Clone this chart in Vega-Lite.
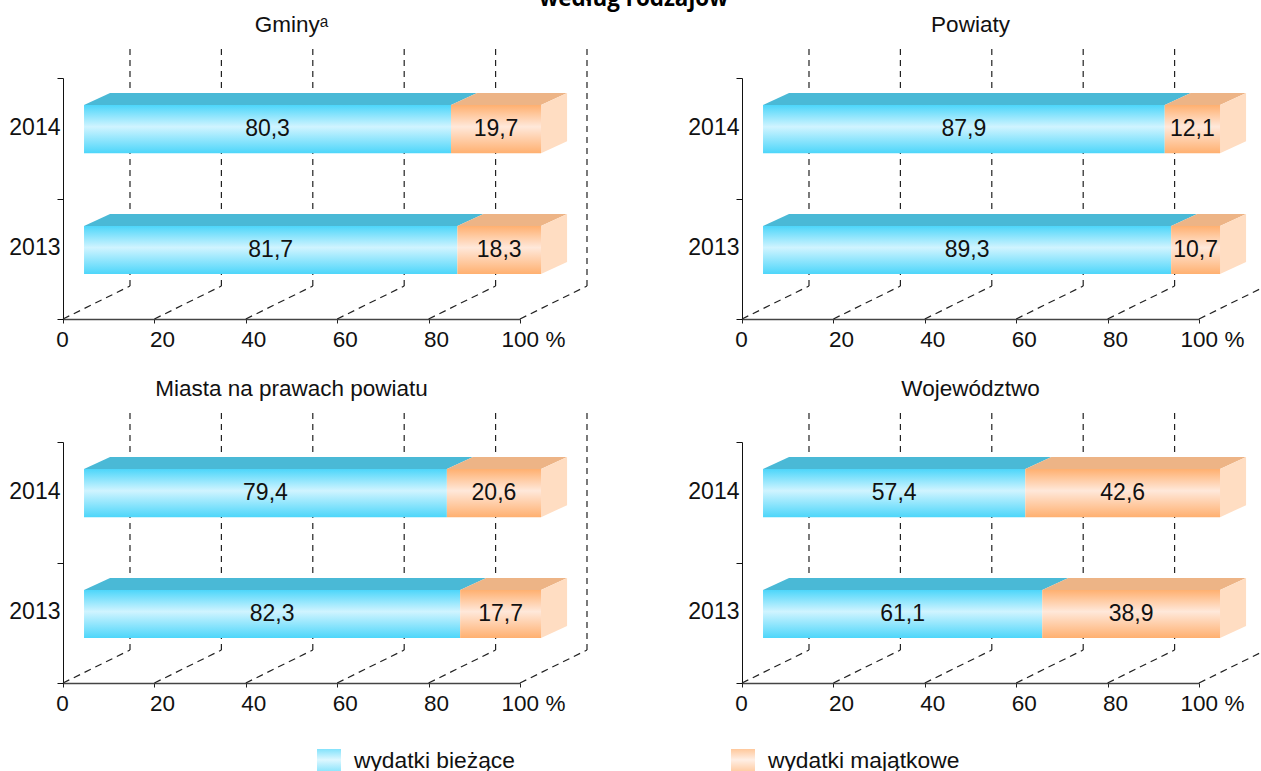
{"$schema":"https://vega.github.io/schema/vega-lite/v6.json","padding":{"left":8,"top":-12,"right":0,"bottom":0},"background":"white","bounds":"flush","title":{"text":"według rodzajów","font":"Open Sans","fontSize":22.4,"fontWeight":"bold","color":"#000","anchor":"middle","offset":3,"dx":-4},"config":{"view":{"stroke":null},"font":"Liberation Sans","axis":{"labelFont":"Liberation Sans","labelFontSize":22.5,"labelColor":"#111"},"header":{"labelFont":"Liberation Sans","labelFontSize":22.5,"labelColor":"#111","labelPadding":8},"legend":{"labelFont":"Liberation Sans","labelFontSize":22.8,"labelColor":"#111","labelLimit":400}},"data":{"values":[
{"kind":"bar","panel":"Gminyᵃ","year":2014,"series":"wydatki bieżące","value":80.3},
{"kind":"bar","panel":"Gminyᵃ","year":2014,"series":"wydatki majątkowe","value":19.7},
{"kind":"bar","panel":"Gminyᵃ","year":2013,"series":"wydatki bieżące","value":81.7},
{"kind":"bar","panel":"Gminyᵃ","year":2013,"series":"wydatki majątkowe","value":18.3},
{"kind":"bar","panel":"Powiaty","year":2014,"series":"wydatki bieżące","value":87.9},
{"kind":"bar","panel":"Powiaty","year":2014,"series":"wydatki majątkowe","value":12.1},
{"kind":"bar","panel":"Powiaty","year":2013,"series":"wydatki bieżące","value":89.3},
{"kind":"bar","panel":"Powiaty","year":2013,"series":"wydatki majątkowe","value":10.7},
{"kind":"bar","panel":"Miasta na prawach powiatu","year":2014,"series":"wydatki bieżące","value":79.4},
{"kind":"bar","panel":"Miasta na prawach powiatu","year":2014,"series":"wydatki majątkowe","value":20.6},
{"kind":"bar","panel":"Miasta na prawach powiatu","year":2013,"series":"wydatki bieżące","value":82.3},
{"kind":"bar","panel":"Miasta na prawach powiatu","year":2013,"series":"wydatki majątkowe","value":17.7},
{"kind":"bar","panel":"Województwo","year":2014,"series":"wydatki bieżące","value":57.4},
{"kind":"bar","panel":"Województwo","year":2014,"series":"wydatki majątkowe","value":42.6},
{"kind":"bar","panel":"Województwo","year":2013,"series":"wydatki bieżące","value":61.1},
{"kind":"bar","panel":"Województwo","year":2013,"series":"wydatki majątkowe","value":38.9},
{"kind":"grid","panel":"Gminyᵃ","tick":0},{"kind":"grid","panel":"Gminyᵃ","tick":20},{"kind":"grid","panel":"Gminyᵃ","tick":40},{"kind":"grid","panel":"Gminyᵃ","tick":60},{"kind":"grid","panel":"Gminyᵃ","tick":80},{"kind":"grid","panel":"Gminyᵃ","tick":100},
{"kind":"grid","panel":"Powiaty","tick":0},{"kind":"grid","panel":"Powiaty","tick":20},{"kind":"grid","panel":"Powiaty","tick":40},{"kind":"grid","panel":"Powiaty","tick":60},{"kind":"grid","panel":"Powiaty","tick":80},{"kind":"grid","panel":"Powiaty","tick":100},
{"kind":"grid","panel":"Miasta na prawach powiatu","tick":0},{"kind":"grid","panel":"Miasta na prawach powiatu","tick":20},{"kind":"grid","panel":"Miasta na prawach powiatu","tick":40},{"kind":"grid","panel":"Miasta na prawach powiatu","tick":60},{"kind":"grid","panel":"Miasta na prawach powiatu","tick":80},{"kind":"grid","panel":"Miasta na prawach powiatu","tick":100},
{"kind":"grid","panel":"Województwo","tick":0},{"kind":"grid","panel":"Województwo","tick":20},{"kind":"grid","panel":"Województwo","tick":40},{"kind":"grid","panel":"Województwo","tick":60},{"kind":"grid","panel":"Województwo","tick":80},{"kind":"grid","panel":"Województwo","tick":100}
]},
"transform":[
{"calculate":"datum.series=='wydatki bieżące'?0:100-datum.value","as":"start"},
{"calculate":"datum.series=='wydatki bieżące'?datum.value:100","as":"end"},
{"calculate":"4.6+datum.start","as":"x0"},
{"calculate":"4.6+datum.end","as":"x1"},
{"calculate":"0.373+(datum.year-2013)*1.003","as":"yb"},
{"calculate":"datum.yb+0.399","as":"yt"},
{"calculate":"replace(format(datum.value,'.1f'),'.',',')","as":"label"},
{"calculate":"(datum.x0+datum.x1)/2","as":"cx"},
{"calculate":"(datum.yb+datum.yt)/2","as":"cy"},
{"calculate":"datum.tick+14.66","as":"backx"},
{"calculate":"0.274","as":"backy0"},
{"calculate":"2.274","as":"backy1"},
{"calculate":"0","as":"floory"}
],
"facet":{"field":"panel","type":"nominal","sort":["Gminyᵃ","Powiaty","Miasta na prawach powiatu","Województwo"],"title":null},
"columns":2,
"spacing":{"column":222,"row":123},
"resolve":{"axis":{"x":"independent","y":"independent"}},
"spec":{"width":457,"height":241,"layer":[
{"transform":[{"filter":"datum.kind=='grid'"}],"mark":{"type":"rule","color":"#222","strokeWidth":1.2,"strokeDash":[6,5]},
 "encoding":{"x":{"field":"backx","type":"quantitative","scale":{"domain":[0,100],"nice":false},"title":null,
   "axis":{"values":[0,20,40,60,80,100],"grid":false,"domainColor":"#444","domainWidth":1.5,"tickColor":"#222","tickSize":4,"labelPadding":5,"labelFlush":false,"labelOverlap":false,
     "labelExpr":"datum.value==100?'100 %':datum.value","encoding":{"labels":{"dx":{"value":{"expr":"datum.value==0?-1:datum.value==100?13:7.5"}}}}}},
  "y":{"field":"backy0","type":"quantitative","scale":{"domain":[0,2],"nice":false},"title":null,
   "axis":{"values":[0,0.5,1,1.5,2],"grid":false,"domainColor":"#111","tickColor":"#111","tickSize":6,"tickOpacity":{"condition":{"test":"datum.value%1==0","value":1},"value":0},"labelPadding":-3,"labelFontSize":23,"labelOffset":-11,"labelOverlap":false,"labelFlush":false,
     "labelExpr":"datum.value==0.5?'2013':datum.value==1.5?'2014':''"}},
  "y2":{"field":"backy1"}}},
{"transform":[{"filter":"datum.kind=='grid'"}],"mark":{"type":"rule","color":"#222","strokeWidth":1.2,"strokeDash":[7,5]},
 "encoding":{"x":{"field":"tick","type":"quantitative"},"x2":{"field":"backx"},"y":{"field":"floory","type":"quantitative"},"y2":{"field":"backy0"}}},
{"transform":[{"filter":"datum.kind=='bar'"},{"calculate":"[0,1]","as":"depth"},{"flatten":["depth"]},{"calculate":"datum.x0+datum.depth*5.7","as":"ax0"},{"calculate":"datum.x1+datum.depth*5.7","as":"ax1"},{"calculate":"datum.yt+datum.depth*0.1","as":"ay"}],
 "mark":{"type":"area","orient":"horizontal"},
 "encoding":{"y":{"field":"ay","type":"quantitative"},"x":{"field":"ax0","type":"quantitative"},"x2":{"field":"ax1"},"detail":[{"field":"year"},{"field":"series"}],
  "fill":{"condition":{"test":"datum.series=='wydatki bieżące'","value":"#4AB9D6"},"value":"#EDB486"}}},
{"transform":[{"filter":"datum.kind=='bar'&&datum.series=='wydatki majątkowe'"},{"calculate":"[0,1]","as":"depth"},{"flatten":["depth"]},{"calculate":"datum.x1+datum.depth*5.7","as":"sx"},{"calculate":"datum.yb+datum.depth*0.1","as":"sy0"},{"calculate":"datum.yt+datum.depth*0.1","as":"sy1"}],
 "mark":{"type":"area","orient":"vertical","color":"#FFDDC2"},
 "encoding":{"x":{"field":"sx","type":"quantitative"},"y":{"field":"sy0","type":"quantitative"},"y2":{"field":"sy1"},"detail":{"field":"year"}}},
{"transform":[{"filter":"datum.kind=='bar'"}],"mark":{"type":"point","filled":true,"size":4,"color":"#4DD6FA"},
 "encoding":{"x":{"field":"cx","type":"quantitative"},"y":{"field":"cy","type":"quantitative"},
  "shape":{"field":"series","type":"nominal","title":null,
   "scale":{"domain":["wydatki bieżące","wydatki majątkowe"],"range":["square","square"]},
   "legend":{"orient":"none","legendX":254,"legendY":671,"direction":"horizontal","symbolType":"square","symbolSize":576,"symbolStrokeWidth":0,"labelOffset":13,"columnPadding":216,
    "encoding":{"symbols":{"size":{"value":576},"strokeWidth":{"value":0},"fill":{"value":{"expr":"datum.value=='wydatki bieżące'?{gradient:'linear',x1:0,y1:0,x2:0,y2:1,stops:[{offset:0,color:'#4DD6FA'},{offset:0.45,color:'#D0F4FF'},{offset:1,color:'#4DD6FA'}]}:{gradient:'linear',x1:0,y1:0,x2:0,y2:1,stops:[{offset:0,color:'#FFB070'},{offset:0.45,color:'#FFE8DA'},{offset:1,color:'#FFB070'}]}"}}}}}}}},
{"transform":[{"filter":"datum.kind=='bar'&&datum.series=='wydatki bieżące'"}],"mark":{"type":"rect","color":{"gradient":"linear","x1":0,"y1":0,"x2":0,"y2":1,"stops":[{"offset":0,"color":"#4DD6FA"},{"offset":0.45,"color":"#D0F4FF"},{"offset":1,"color":"#4DD6FA"}]}},
 "encoding":{"x":{"field":"x0","type":"quantitative"},"x2":{"field":"x1"},"y":{"field":"yb","type":"quantitative"},"y2":{"field":"yt"}}},
{"transform":[{"filter":"datum.kind=='bar'&&datum.series=='wydatki majątkowe'"}],"mark":{"type":"rect","color":{"gradient":"linear","x1":0,"y1":0,"x2":0,"y2":1,"stops":[{"offset":0,"color":"#FFB070"},{"offset":0.45,"color":"#FFE8DA"},{"offset":1,"color":"#FFB070"}]}},
 "encoding":{"x":{"field":"x0","type":"quantitative"},"x2":{"field":"x1"},"y":{"field":"yb","type":"quantitative"},"y2":{"field":"yt"}}},
{"transform":[{"filter":"datum.kind=='bar'"}],
 "mark":{"type":"text","font":"Liberation Sans","fontSize":23,"color":"#111","baseline":"middle","align":"center"},
 "encoding":{"x":{"field":"cx","type":"quantitative"},"y":{"field":"cy","type":"quantitative"},"text":{"field":"label","type":"nominal"}}}
]}}
